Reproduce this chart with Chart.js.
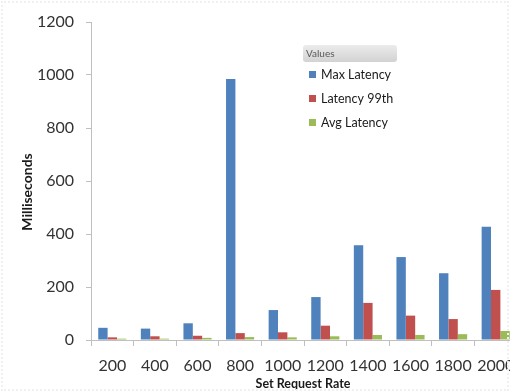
<!DOCTYPE html>
<html>
<head>
<meta charset="utf-8">
<script src="https://cdn.jsdelivr.net/npm/chart.js@4.4.0/dist/chart.umd.min.js"></script>
<style>
  html, body { margin: 0; padding: 0; background: #fff; overflow: hidden; }
  #wrap { position: relative; width: 510px; height: 392px; overflow: hidden; }
  #frame { position: absolute; left: 1px; top: 1px; right: 1px; bottom: 1px; border: 2px dotted #f0f0f0; pointer-events: none; }
  canvas { position: absolute; left: 0; top: 0; }
</style>
</head>
<body>
<div id="wrap">
  <canvas id="chart" width="530" height="392"></canvas>
  <div id="frame"></div>
</div>
<script>
const rates = ['200', '400', '600', '800', '1000', '1200', '1400', '1600', '1800', '2000'];
const maxLatency = [46, 43, 63, 985, 113, 162, 358, 313, 252, 427];
const latency99 = [10, 14, 16, 26, 29, 54, 140, 92, 79, 189];
const avgLatency = [5, 5, 8, 11, 10, 14, 19, 19, 22, 34];
const yTicks = [0, 200, 400, 600, 800, 1000, 1200];

const COLORS = { max: '#4f81bd', p99: '#c0504d', avg: '#9bbb59' };
const FONT = 'Lato, "Open Sans", sans-serif';

// axis titles + the little Excel-style legend
const extras = {
  id: 'extras',
  afterDraw(chart) {
    const ctx = chart.ctx;
    ctx.save();
    ctx.fillStyle = '#1a1a1a';
    ctx.font = 'bold 14px ' + FONT;
    ctx.textAlign = 'center';
    ctx.textBaseline = 'middle';
    ctx.save();
    ctx.translate(27, 192);
    ctx.rotate(-Math.PI / 2);
    ctx.fillText('Milliseconds', 0, 0);
    ctx.restore();
    ctx.font = 'bold 12.5px ' + FONT;
    ctx.fillText('Set Request Rate', 303, 384);

    // legend header
    const hx = 303, hy = 45, hw = 94, hh = 17;
    const g = ctx.createLinearGradient(0, hy, 0, hy + hh);
    g.addColorStop(0, '#ececec');
    g.addColorStop(1, '#d2d2d2');
    ctx.fillStyle = g;
    ctx.beginPath();
    ctx.roundRect(hx, hy, hw, hh, 3);
    ctx.fill();
    ctx.fillStyle = '#595959';
    ctx.font = '10px ' + FONT;
    ctx.textAlign = 'left';
    ctx.fillText('Values', hx + 3, hy + hh / 2);

    ctx.font = '12.5px ' + FONT;
    chart.data.datasets.forEach((ds, i) => {
      const y = 74 + i * 24;
      ctx.fillStyle = ds.backgroundColor;
      ctx.fillRect(309, y - 3, 7, 7);
      ctx.fillStyle = '#1a1a1a';
      ctx.fillText(ds.label, 321, y + 1);
    });
    ctx.restore();
  }
};

new Chart(document.getElementById('chart'), {
  type: 'bar',
  data: {
    labels: rates,
    datasets: [
      { label: 'Max Latency', data: maxLatency, backgroundColor: COLORS.max },
      { label: 'Latency 99th', data: latency99, backgroundColor: COLORS.p99 },
      { label: 'Avg Latency', data: avgLatency, backgroundColor: COLORS.avg },
    ],
  },
  options: {
    responsive: false,
    animation: false,
    devicePixelRatio: 1,
    layout: { padding: { top: 22, left: 0, right: 13, bottom: 0 } },
    datasets: { bar: { categoryPercentage: 0.66, barPercentage: 1 } },
    plugins: { legend: { display: false }, tooltip: { enabled: false } },
    scales: {
      x: {
        grid: { offset: true, drawOnChartArea: false, tickLength: 6, color: '#bfbfbf' },
        border: { color: '#bfbfbf' },
        ticks: { color: '#333', font: { family: FONT, size: 16 }, padding: 10, maxRotation: 0, autoSkip: false },
        afterFit(scale) { scale.height = 52; },
      },
      y: {
        min: 0,
        max: 1200,
        afterBuildTicks(scale) { scale.ticks = yTicks.map(v => ({ value: v })); },
        grid: { drawOnChartArea: false, tickLength: 5, color: '#bfbfbf' },
        border: { color: '#bfbfbf' },
        ticks: { color: '#333', font: { family: FONT, size: 16 }, padding: 12, callback: v => String(v) },
        afterFit(scale) { scale.width = 91; },
      },
    },
  },
  plugins: [extras],
});
</script>
</body>
</html>
